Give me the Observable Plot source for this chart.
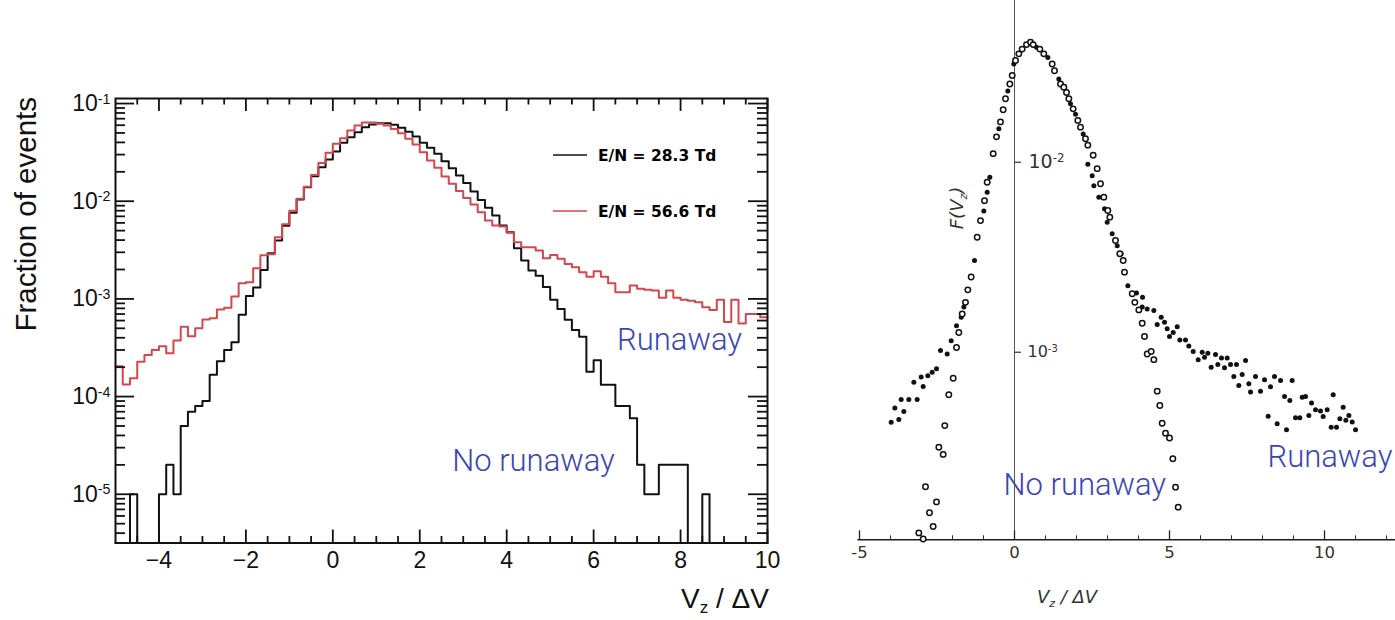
<!DOCTYPE html>
<html><head><meta charset="utf-8">
<script src="https://cdn.jsdelivr.net/npm/d3@7"></script>
<script src="https://cdn.jsdelivr.net/npm/@observablehq/plot@0.6"></script>
<style>
body{margin:0;background:#fff;}
#wrap{position:relative;width:1395px;height:620px;overflow:hidden;background:#fff;}
#left{position:absolute;left:0;top:0;}
#right{position:absolute;left:820px;top:0;}
</style></head><body><div id="wrap"><div id="left"></div><div id="right"></div></div>
<script>
// ---------------- data: left panel (histograms, 90 bins on [-5, 10]) ----------------
const histRange = [-5, 10];
const seriesNames = ["E/N = 28.3 Td", "E/N = 56.6 Td"];
const en283 = [0,0,1e-5,0,0,0,1e-5,2e-5,1e-5,5e-5,
  7e-5,8e-5,9e-5,1.67e-4,2.3e-4,3.0e-4,3.6e-4,6.9e-4,1.07e-3,1.31e-3,
  1.98e-3,2.93e-3,3.96e-3,5.6e-3,7.6e-3,1.04e-2,1.39e-2,1.8e-2,2.23e-2,2.67e-2,
  3.23e-2,3.96e-2,4.52e-2,5.08e-2,5.72e-2,6.1e-2,6.29e-2,6.29e-2,6.05e-2,5.64e-2,
  5.14e-2,4.59e-2,3.96e-2,3.52e-2,3.06e-2,2.57e-2,2.18e-2,1.83e-2,1.54e-2,1.26e-2,
  1.03e-2,8.55e-3,7.14e-3,5.64e-3,4.82e-3,3.3e-3,2.47e-3,1.95e-3,1.73e-3,1.32e-3,
  9.8e-4,7.9e-4,6.1e-4,4.8e-4,4.1e-4,1.8e-4,2.35e-4,1.32e-4,1.32e-4,8e-5,
  8e-5,6e-5,2e-5,1e-5,1e-5,2e-5,2e-5,2e-5,2e-5,0,
  0,1e-5,0,0,0,0,0,0,0,0];
const en566 = [2.05e-4,1.33e-4,1.54e-4,2.27e-4,2.67e-4,3.0e-4,3.28e-4,2.78e-4,3.75e-4,5.2e-4,
  4.15e-4,5.0e-4,6.15e-4,6.35e-4,7.8e-4,8.1e-4,1.06e-3,1.45e-3,1.48e-3,2.06e-3,
  2.8e-3,2.87e-3,4.28e-3,5.8e-3,8.0e-3,1.06e-2,1.41e-2,1.86e-2,2.46e-2,3.13e-2,
  3.87e-2,4.41e-2,5.3e-2,5.96e-2,6.4e-2,6.4e-2,6.2e-2,5.96e-2,5.5e-2,4.97e-2,
  4.35e-2,3.8e-2,3.18e-2,2.61e-2,2.2e-2,1.79e-2,1.51e-2,1.27e-2,1.08e-2,9.25e-3,
  7.7e-3,6.34e-3,5.64e-3,5.5e-3,4.75e-3,3.8e-3,3.38e-3,3.38e-3,3.13e-3,2.6e-3,
  2.82e-3,2.57e-3,2.28e-3,2.11e-3,1.87e-3,1.69e-3,1.92e-3,1.69e-3,1.45e-3,1.17e-3,
  1.17e-3,1.37e-3,1.27e-3,1.24e-3,1.22e-3,1.03e-3,1.22e-3,1.03e-3,9.8e-4,9.6e-4,
  9.25e-4,8.2e-4,7.7e-4,9.8e-4,5.8e-4,9.8e-4,5.6e-4,7.0e-4,7.0e-4,6.5e-4];
const leftXTicks = [-4, -2, 0, 2, 4, 6, 8, 10];
const leftYTicks = [1e-5, 1e-4, 1e-3, 1e-2, 1e-1];
const noteTexts = ["Runaway", "No runaway"];

// ---------------- data: right panel (scanned scatter) ----------------
const noRunV = [-3.086,-2.946,-2.871,-2.742,-2.624,-2.516,-2.441,-2.301,-2.248,-2.119,
  -1.978,-1.871,-1.796,-1.687,-1.581,-1.505,-1.398,-1.204,-1.097,-0.968,
  -0.882,-0.688,-0.581,-0.452,-0.366,-0.290,-0.151,-0.075,0.032,0.140,
  0.247,0.387,0.516,0.602,0.817,0.946,1.215,1.290,1.484,1.591,
  1.677,1.753,1.892,2.043,2.129,2.290,2.366,2.538,2.667,2.774,
  2.882,3.011,3.075,3.258,3.398,3.506,3.548,3.797,3.882,4.011,
  4.119,4.194,4.280,4.409,4.495,4.603,4.688,4.763,4.871,5.000,
  5.108,5.194,5.280];
const noRunF = [1.12e-4,1.04e-4,1.96e-4,1.43e-4,1.21e-4,1.63e-4,3.16e-4,2.90e-4,4.11e-4,5.97e-4,
  7.29e-4,1.06e-3,1.27e-3,1.59e-3,1.83e-3,2.13e-3,2.49e-3,4.03e-3,4.93e-3,6.28e-3,
  7.85e-3,1.11e-2,1.36e-2,1.63e-2,1.89e-2,2.16e-2,2.58e-2,2.86e-2,3.43e-2,3.72e-2,
  3.94e-2,4.16e-2,4.28e-2,4.16e-2,3.94e-2,3.72e-2,3.29e-2,3.03e-2,2.58e-2,2.48e-2,
  2.33e-2,2.16e-2,1.91e-2,1.66e-2,1.53e-2,1.33e-2,1.23e-2,1.09e-2,9.25e-3,7.71e-3,
  6.55e-3,5.57e-3,5.14e-3,3.87e-3,3.30e-3,3.04e-3,2.64e-3,2.03e-3,1.83e-3,1.67e-3,
  1.42e-3,1.21e-3,9.79e-4,1.01e-3,9.14e-4,6.24e-4,5.24e-4,4.23e-4,3.75e-4,3.54e-4,
  2.75e-4,1.95e-4,1.53e-4];
const runV = [-3.978,-3.860,-3.731,-3.656,-3.570,-3.409,-3.247,-3.140,-3.011,-2.946,
  -2.796,-2.656,-2.516,-2.387,-2.171,-2.043,-1.871,-1.720,-1.634,-1.290,
  -0.989,-0.882,-0.796,-0.505,-0.215,-0.022,0.710,1.075,1.430,1.806,
  1.968,2.215,2.366,2.506,2.559,2.720,2.903,2.990,3.151,3.313,
  3.442,3.548,3.656,3.935,4.129,4.119,4.280,4.495,4.603,4.732,
  4.839,4.925,5.000,5.119,5.248,5.333,5.516,5.623,5.764,5.925,
  6.054,6.129,6.236,6.344,6.484,6.559,6.677,6.774,6.861,6.968,
  7.075,7.161,7.236,7.344,7.452,7.559,7.613,7.774,7.935,8.065,
  8.183,8.258,8.387,8.473,8.581,8.710,8.774,8.882,8.957,9.065,
  9.204,9.280,9.387,9.495,9.581,9.710,9.871,9.957,10.086,10.215,
  10.280,10.387,10.495,10.602,10.688,10.786,10.893,11.000];
const runF = [4.28e-4,5.09e-4,4.43e-4,5.64e-4,4.88e-4,5.64e-4,6.95e-4,5.64e-4,7.40e-4,6.61e-4,
  7.53e-4,7.85e-4,8.18e-4,1.02e-3,9.79e-4,1.15e-3,1.38e-3,1.53e-3,1.73e-3,3.04e-3,
  5.53e-3,6.95e-3,8.34e-3,1.50e-2,2.37e-2,3.29e-2,4.03e-2,3.56e-2,2.74e-2,2.03e-2,
  1.79e-2,1.41e-2,9.77e-3,8.49e-3,7.52e-3,6.55e-3,5.69e-3,4.83e-3,4.20e-3,3.64e-3,
  3.30e-3,2.64e-3,2.24e-3,2.05e-3,1.95e-3,1.73e-3,1.69e-3,1.66e-3,1.40e-3,1.53e-3,
  1.44e-3,1.33e-3,1.21e-3,1.27e-3,1.36e-3,1.16e-3,1.16e-3,1.08e-3,1.01e-3,9.12e-4,
  1.00e-3,9.42e-4,9.89e-4,8.34e-4,9.73e-4,8.61e-4,9.33e-4,8.28e-4,9.33e-4,8.61e-4,
  7.45e-4,8.61e-4,6.68e-4,7.64e-4,9.04e-4,6.82e-4,6.17e-4,7.45e-4,6.24e-4,7.16e-4,
  4.60e-4,6.59e-4,7.45e-4,4.20e-4,7.10e-4,5.85e-4,3.91e-4,5.57e-4,7.10e-4,4.52e-4,
  4.52e-4,5.79e-4,5.85e-4,4.65e-4,5.40e-4,4.98e-4,4.90e-4,4.59e-4,4.98e-4,4.03e-4,
  5.98e-4,4.03e-4,4.46e-4,5.14e-4,4.38e-4,4.65e-4,4.29e-4,3.91e-4];
const rightXTicks = [-5, 0, 5, 10];
const rightYTicks = [1e-2, 1e-3];

// ---------------- styling ----------------
const RED = "#d5474f", INK = "#111", BLUE = "#3a45b5";
const SANS = "'Liberation Sans', Arial, Helvetica, sans-serif";
const LIGHT = "Roboto, 'Liberation Sans', sans-serif";
const SCAN = "'DejaVu Sans', sans-serif";
const SCANINK = "#333";

function supify(svg) {
  d3.select(svg).selectAll("text").each(function () {
    const t = this.textContent;
    if (!t.includes("^")) return;
    const [base, exp] = t.split("^");
    const s = d3.select(this); s.text(null);
    s.append("tspan").text(base);
    s.append("tspan").attr("dy", "-0.5em").attr("font-size", "0.62em").text(exp);
  });
}

// ---------------- left plot ----------------
const L = {W: 800, H: 620, ml: 115, mr: 33, mt: 98, mb: 77.5};
const yDomL = [3.17e-6, 0.1126];
const pwL = L.W - L.ml - L.mr, phL = L.H - L.mt - L.mb;
const binW = (histRange[1] - histRange[0]) / en283.length;
function stepRows(vals) {
  const rows = vals.map((v, i) => ({x: histRange[0] + i * binW, y: v > 0 ? v : yDomL[0]}));
  rows.push({x: histRange[1], y: rows[rows.length - 1].y});
  return rows;
}
const xMinorL = d3.range(histRange[0] + 0.5, histRange[1], 0.5).filter(v => !leftXTicks.includes(v));
const yMinorL = [];
for (let e = -6; e <= -1; e++) for (let m = 2; m <= 9; m++) {
  const v = m * Math.pow(10, e);
  if (v > yDomL[0] && v < yDomL[1]) yMinorL.push(v);
}
const tk = {stroke: INK, strokeWidth: 1.8};
const left = Plot.plot({
  width: L.W, height: L.H,
  marginLeft: L.ml, marginRight: L.mr, marginTop: L.mt, marginBottom: L.mb,
  style: {fontFamily: SANS, background: "white", color: INK},
  x: {domain: histRange},
  y: {type: "log", domain: yDomL},
  marks: [
    Plot.line(stepRows(en283), {x: "x", y: "y", curve: "step-after", stroke: INK, strokeWidth: 2}),
    Plot.line(stepRows(en566), {x: "x", y: "y", curve: "step-after", stroke: RED, strokeWidth: 2}),
    Plot.tickX(leftXTicks, {x: d => d, insetTop: phL - 13, ...tk}),
    Plot.tickX(leftXTicks, {x: d => d, insetBottom: phL - 13, ...tk}),
    Plot.tickX(xMinorL, {x: d => d, insetTop: phL - 6.5, ...tk}),
    Plot.tickX(xMinorL, {x: d => d, insetBottom: phL - 6.5, ...tk}),
    Plot.tickY(leftYTicks, {y: d => d, insetRight: pwL - 19, ...tk}),
    Plot.tickY(leftYTicks, {y: d => d, insetLeft: pwL - 19, ...tk}),
    Plot.tickY(yMinorL, {y: d => d, insetRight: pwL - 10, ...tk}),
    Plot.tickY(yMinorL, {y: d => d, insetLeft: pwL - 10, ...tk}),
    Plot.frame({stroke: INK, strokeWidth: 2}),
    Plot.axisX(leftXTicks, {tickSize: 0, tickPadding: 9, fontSize: 23, fill: INK,
      tickFormat: d => d < 0 ? "\u2212" + (-d) : String(d), label: null}),
    Plot.axisY(leftYTicks, {tickSize: 0, tickPadding: 5, fontSize: 23, fill: INK,
      tickFormat: d => "10^" + Math.round(Math.log10(d)), label: null}),
    Plot.text([noteTexts[0]], {x: 6.54, y: 3.75e-4, text: d => d, textAnchor: "start",
      fontSize: 31, fontWeight: 300, fontFamily: LIGHT, fill: BLUE}),
    Plot.text([noteTexts[1]], {x: 2.746, y: 2.21e-5, text: d => d, textAnchor: "start",
      fontSize: 31, fontWeight: 300, fontFamily: LIGHT, fill: BLUE})
  ]
});
supify(left);
{
  const g = d3.select(left);
  g.append("text").attr("transform", "translate(36,97) rotate(-90)")
    .attr("text-anchor", "end").attr("font-size", 29.5).attr("fill", INK).text("Fraction of events");
  const xl = g.append("text").attr("x", 769).attr("y", 608).attr("text-anchor", "end")
    .attr("font-size", 28).attr("fill", INK);
  xl.append("tspan").text("V");
  xl.append("tspan").attr("font-size", 17).attr("dy", 5).text("z");
  xl.append("tspan").attr("dy", -5).text(" / \u0394V");
  const leg = [[seriesNames[0], INK, 155], [seriesNames[1], RED, 211]];
  leg.forEach(([name, col, yy]) => {
    g.append("line").attr("x1", 553).attr("x2", 587).attr("y1", yy).attr("y2", yy)
      .attr("stroke", col).attr("stroke-width", 1.6);
    g.append("text").attr("x", 598).attr("y", yy).attr("dy", "0.36em")
      .attr("text-anchor", "start")
      .attr("font-family", "'DejaVu Sans', sans-serif").attr("font-weight", "bold")
      .attr("font-size", 15.5).attr("fill", "#000").text(name);
  });
}
document.getElementById("left").appendChild(left);

// ---------------- right plot ----------------
const R = {W: 575, H: 620, ml: 37.45, mr: 0, mt: 0, mb: 80.7};
const xDomR = [-5.05, 12.29];
const yDomR = [1.03e-4, 0.0710];
const pwR = R.W - R.ml - R.mr, phR = R.H - R.mt - R.mb;
const x0px = (0 - xDomR[0]) / (xDomR[1] - xDomR[0]) * pwR;
const xMinorR = d3.range(-4, 13, 1).filter(v => !rightXTicks.includes(v));
const noRun = noRunV.map((v, i) => ({v, F: noRunF[i]}));
const run = runV.map((v, i) => ({v, F: runF[i]}));
const right = Plot.plot({
  width: R.W, height: R.H,
  marginLeft: R.ml, marginRight: R.mr, marginTop: R.mt, marginBottom: R.mb,
  style: {fontFamily: SANS, background: "white", color: "#222"},
  x: {domain: xDomR, axis: null},
  y: {type: "log", domain: yDomR, axis: null},
  marks: [
    Plot.ruleX([0], {stroke: "#555", strokeWidth: 1}),
    Plot.ruleY([yDomR[0]], {stroke: "#1a1a1a", strokeWidth: 1.6}),
    Plot.tickX(xMinorR, {x: d => d, insetTop: phR - 4, stroke: "#333", strokeWidth: 1}),
    Plot.tickX(rightXTicks, {x: d => d, insetTop: phR - 9, stroke: "#222", strokeWidth: 1.3}),
    Plot.tickY(rightYTicks, {y: d => d, insetLeft: x0px, insetRight: pwR - x0px - 7, stroke: "#333", strokeWidth: 1.2}),
    Plot.dot(run, {x: "v", y: "F", r: 2.5, fill: "#111", stroke: "none"}),
    Plot.dot(noRun, {x: "v", y: "F", r: 2.7, fill: "white", stroke: "#111", strokeWidth: 1.5}),
    Plot.text(rightXTicks, {x: d => d, frameAnchor: "bottom", dy: 18, text: d => String(d),
      fontSize: 16.5, fontFamily: SCAN, fill: SCANINK}),
    Plot.text([rightYTicks[0]], {x: 0, y: d => d, text: d => "10^" + Math.round(Math.log10(d)),
      dx: 14, textAnchor: "start", fontSize: 19, fontFamily: SCAN, fill: SCANINK}),
    Plot.text([rightYTicks[1]], {x: 0, y: d => d, text: d => "10^" + Math.round(Math.log10(d)),
      dx: 13, textAnchor: "start", fontSize: 16, fontFamily: SCAN, fill: SCANINK}),
    Plot.text([noteTexts[1]], {x: -0.355, y: 2.01e-4, text: d => d, textAnchor: "start",
      fontSize: 31, fontWeight: 300, fontFamily: LIGHT, fill: BLUE}),
    Plot.text([noteTexts[0]], {x: 8.16, y: 2.79e-4, text: d => d, textAnchor: "start",
      fontSize: 31, fontWeight: 300, fontFamily: LIGHT, fill: BLUE})
  ]
});
supify(right);
{
  const g = d3.select(right);
  const fl = g.append("text").attr("transform", `translate(${963 - 820},208) rotate(-90)`)
    .attr("text-anchor", "middle").attr("font-size", 18).attr("font-style", "italic")
    .attr("font-family", SCAN).attr("fill", SCANINK);
  fl.append("tspan").text("F(V");
  fl.append("tspan").attr("font-size", 11).attr("dy", 4).text("z");
  fl.append("tspan").attr("dy", -4).text(")");
  const xl = g.append("text").attr("x", 1067 - 820).attr("y", 603).attr("text-anchor", "middle")
    .attr("font-size", 18).attr("font-style", "italic").attr("font-family", SCAN)
    .attr("fill", SCANINK);
  xl.append("tspan").text("V");
  xl.append("tspan").attr("font-size", 11).attr("dy", 4).text("z");
  xl.append("tspan").attr("dy", -4).text(" / \u0394V");
}
document.getElementById("right").appendChild(right);
</script></body></html>
